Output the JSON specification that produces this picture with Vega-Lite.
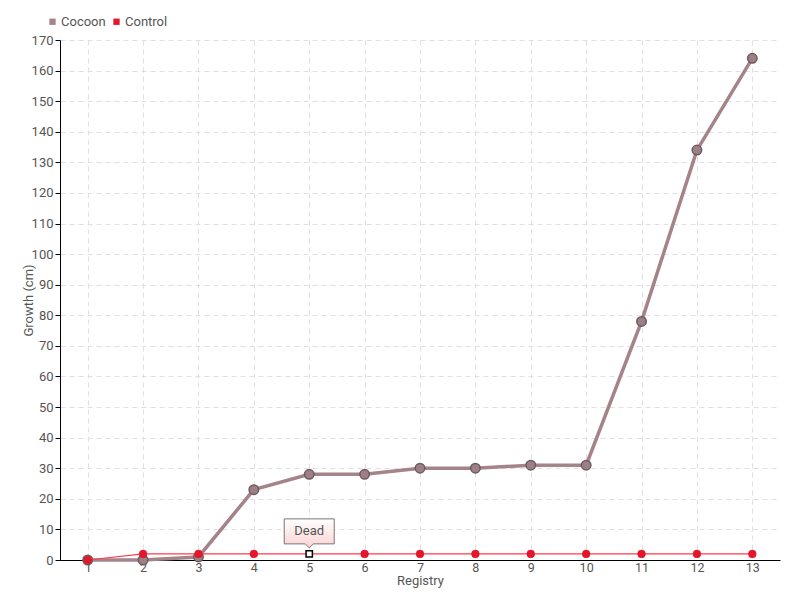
{
  "$schema": "https://vega.github.io/schema/vega-lite/v6.json",
  "width": 720,
  "height": 520,
  "autosize": {"type": "none"},
  "padding": {"left": 60, "top": 40, "right": 20, "bottom": 40},
  "background": "white",
  "config": {
    "font": "Liberation Sans Narrow, Roboto, sans-serif",
    "view": {"stroke": null},
    "axis": {
      "labelColor": "#555555",
      "titleColor": "#555555",
      "labelFontSize": 13,
      "titleFontSize": 13,
      "titleFontWeight": "normal",
      "domainColor": "#000000",
      "tickColor": "#000000",
      "gridColor": "#e0e0e0",
      "gridDash": [5, 4]
    }
  },
  "data": {
    "values": [
      {"registry": 1, "series": "Cocoon", "growth": 0},
      {"registry": 2, "series": "Cocoon", "growth": 0},
      {"registry": 3, "series": "Cocoon", "growth": 1},
      {"registry": 4, "series": "Cocoon", "growth": 23},
      {"registry": 5, "series": "Cocoon", "growth": 28},
      {"registry": 6, "series": "Cocoon", "growth": 28},
      {"registry": 7, "series": "Cocoon", "growth": 30},
      {"registry": 8, "series": "Cocoon", "growth": 30},
      {"registry": 9, "series": "Cocoon", "growth": 31},
      {"registry": 10, "series": "Cocoon", "growth": 31},
      {"registry": 11, "series": "Cocoon", "growth": 78},
      {"registry": 12, "series": "Cocoon", "growth": 134},
      {"registry": 13, "series": "Cocoon", "growth": 164},
      {"registry": 1, "series": "Control", "growth": 0},
      {"registry": 2, "series": "Control", "growth": 2},
      {"registry": 3, "series": "Control", "growth": 2},
      {"registry": 4, "series": "Control", "growth": 2},
      {"registry": 5, "series": "Control", "growth": 2, "note": "Dead"},
      {"registry": 6, "series": "Control", "growth": 2},
      {"registry": 7, "series": "Control", "growth": 2},
      {"registry": 8, "series": "Control", "growth": 2},
      {"registry": 9, "series": "Control", "growth": 2},
      {"registry": 10, "series": "Control", "growth": 2},
      {"registry": 11, "series": "Control", "growth": 2},
      {"registry": 12, "series": "Control", "growth": 2},
      {"registry": 13, "series": "Control", "growth": 2}
    ]
  },
  "encoding": {
    "x": {
      "field": "registry",
      "type": "ordinal",
      "scale": {"type": "point", "padding": 0.5},
      "axis": {"title": "Registry", "labelAngle": 0, "grid": true, "tickSize": 0, "labelPadding": 1, "titlePadding": 1, "labelFontSize": 12.5}
    },
    "y": {
      "field": "growth",
      "type": "quantitative",
      "scale": {"domain": [0, 170], "nice": false},
      "axis": {
        "title": "Growth (cm)",
        "values": [0,10,20,30,40,50,60,70,80,90,100,110,120,130,140,150,160,170],
        "grid": true,
        "tickSize": 5,
        "titleX": -25
      }
    }
  },
  "layer": [
    {
      "transform": [{"filter": "datum.series === 'Cocoon'"}],
      "mark": {"type": "line", "strokeWidth": 3.5, "color": "#a48489"},
      "encoding": {}
    },
    {
      "transform": [{"filter": "datum.series === 'Cocoon'"}],
      "mark": {"type": "point", "filled": true, "size": 90, "fill": "#9c8086", "stroke": "#6d5b5f", "strokeWidth": 1.5, "opacity": 1},
      "encoding": {}
    },
    {
      "transform": [{"filter": "datum.series === 'Control'"}],
      "mark": {"type": "line", "strokeWidth": 1.2, "color": "#ff3a4a"},
      "encoding": {}
    },
    {
      "transform": [{"filter": "datum.series === 'Control' && !datum.note"}],
      "mark": {"type": "point", "filled": true, "size": 60, "fill": "#e8142a", "stroke": "#c8102a", "strokeWidth": 0.5, "opacity": 1},
      "encoding": {}
    },
    {
      "transform": [{"filter": "datum.note"}],
      "mark": {"type": "point", "shape": "square", "filled": true, "size": 40, "fill": "#ffffff", "stroke": "#000000", "strokeWidth": 1.5, "opacity": 1},
      "encoding": {}
    },
    {
      "transform": [{"filter": "datum.note"}],
      "mark": {
        "type": "point",
        "shape": "M-0.625,-0.825L0.625,-0.825L0.625,-0.2L0.1,-0.2L0,-0.1L-0.1,-0.2L-0.625,-0.2Z",
        "size": 6400,
        "filled": true,
        "opacity": 1,
        "stroke": "#777777",
        "strokeWidth": 1,
        "yOffset": -2,
        "fill": {"gradient": "linear", "x1": 0, "y1": 0, "x2": 0, "y2": 1, "stops": [{"offset": 0, "color": "#ffffff"}, {"offset": 1, "color": "#fbd2d2"}]}
      },
      "encoding": {}
    },
    {
      "transform": [{"filter": "datum.note"}],
      "mark": {"type": "text", "fontSize": 13, "color": "#555555", "yOffset": -23},
      "encoding": {"text": {"field": "note"}}
    },
    {
      "mark": {"type": "point", "opacity": 0, "filled": true, "shape": "square"},
      "encoding": {
        "color": {
          "field": "series",
          "type": "nominal",
          "scale": {"domain": ["Cocoon", "Control"], "range": ["#a48489", "#e8142a"]},
          "legend": {
            "title": null,
            "orient": "none",
            "legendX": -14,
            "legendY": -25,
            "direction": "horizontal",
            "symbolType": "square",
            "symbolSize": 40,
            "symbolOpacity": 1,
            "labelFontSize": 13,
            "labelColor": "#555555",
            "columnPadding": 4,
            "labelOffset": 2
          }
        }
      }
    }
  ]
}
